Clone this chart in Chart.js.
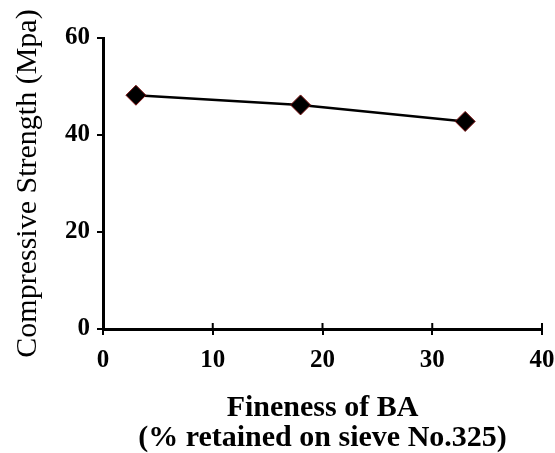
<!DOCTYPE html>
<html>
<head>
<meta charset="utf-8">
<script src="https://cdn.jsdelivr.net/npm/chart.js@4"></script>
<style>
  html, body { margin: 0; padding: 0; background: #fff; }
  #wrap { width: 555px; height: 453px; }
</style>
</head>
<body>
<div id="wrap"><canvas id="fineness"></canvas></div>
<script>
/* data */
const fineness = [3, 18, 33];          // % retained on sieve No.325
const strength = [48.2, 46.2, 42.8];   // compressive strength, MPa
const xTicks = [0, 10, 20, 30, 40];
const yTicks = [0, 20, 40, 60];

const serif = "'Liberation Serif', 'Times New Roman', serif";

// little tick marks above the x axis (ticks cross the axis in the original)
const crossTicks = {
  id: "crossTicks",
  afterDraw(chart) {
    const ctx = chart.ctx;
    const x = chart.scales.x;
    ctx.save();
    ctx.strokeStyle = "#000";
    ctx.lineWidth = 2;
    x.ticks.forEach(t => {
      const px = x.getPixelForValue(t.value);
      ctx.beginPath();
      ctx.moveTo(px, x.top);
      ctx.lineTo(px, x.top - 6);
      ctx.stroke();
    });
    ctx.restore();
  }
};

new Chart(document.getElementById("fineness"), {
  type: "scatter",
  data: {
    datasets: [{
      data: fineness.map((f, i) => ({ x: f, y: strength[i] })),
      showLine: true,
      borderColor: "#000",
      borderWidth: 2.5,
      pointStyle: "rectRot",
      pointRadius: 10,
      pointBackgroundColor: "#000",
      pointBorderColor: "#7a1010",
      pointBorderWidth: 1
    }]
  },
  options: {
    responsive: true,
    maintainAspectRatio: false,
    animation: false,
    layout: { padding: { top: 38, right: 13, left: 0, bottom: 0 } },
    plugins: { legend: { display: false }, tooltip: { enabled: false } },
    scales: {
      x: {
        type: "linear",
        min: 0,
        max: 40,
        afterBuildTicks: s => { s.ticks = xTicks.map(v => ({ value: v })); },
        afterFit: s => { s.height = 124; s.paddingLeft = 0; s.paddingRight = 0; },
        ticks: {
          color: "#000",
          padding: 11,
          font: { family: serif, size: 25, weight: "bold" }
        },
        grid: {
          drawOnChartArea: false,
          color: "#000",
          lineWidth: 2,
          tickLength: 6
        },
        border: { color: "#000", width: 3 },
        title: {
          display: true,
          text: ["Fineness of BA", "(% retained on sieve No.325)"],
          color: "#000",
          font: { family: serif, size: 30, weight: "bold", lineHeight: 1.0 },
          padding: { top: 0, bottom: 0 }
        }
      },
      y: {
        min: 0,
        max: 60,
        afterBuildTicks: s => { s.ticks = yTicks.map(v => ({ value: v })); },
        afterFit: s => { s.width = 103; s.paddingTop = 0; s.paddingBottom = 0; },
        ticks: {
          color: "#000",
          padding: 7,
          font: { family: serif, size: 25, weight: "bold" }
        },
        grid: {
          drawOnChartArea: false,
          color: "#000",
          lineWidth: 2,
          tickLength: 6
        },
        border: { color: "#000", width: 3 },
        title: {
          display: true,
          text: "Compressive Strength (Mpa)",
          color: "#000",
          font: { family: serif, size: 30 },
          padding: { top: 10, bottom: 0 }
        }
      }
    }
  },
  plugins: [crossTicks]
});
</script>
</body>
</html>
